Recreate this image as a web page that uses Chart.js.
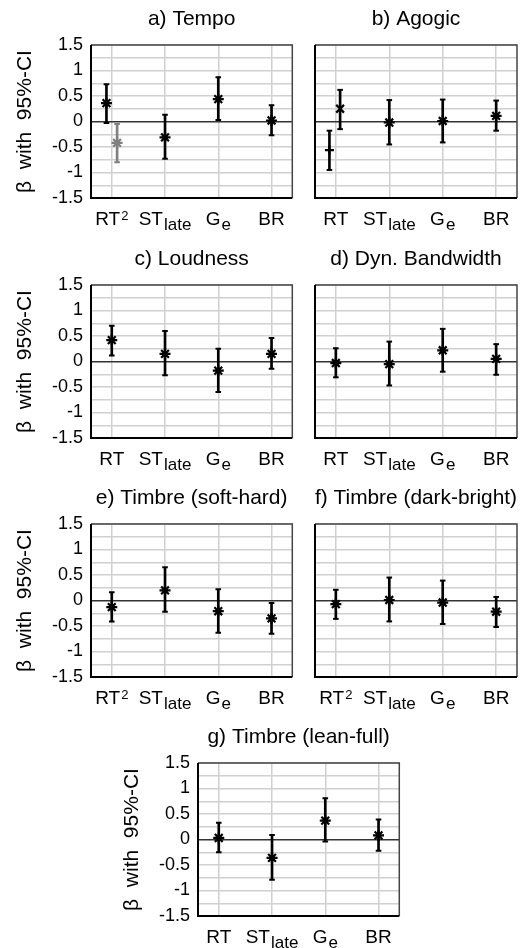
<!DOCTYPE html>
<html lang="en">
<head>
  <meta charset="UTF-8">
  <title>Regression coefficients with 95%-CI</title>
  <script src="https://cdn.jsdelivr.net/npm/chart.js"></script>
  <style>
    html, body { margin: 0; padding: 0; background: #fff; overflow: hidden; }
    canvas { position: absolute; }
  </style>
</head>
<body>
  <canvas id="pa" width="300" height="233" style="left:0px;top:5px"></canvas>
  <canvas id="pb" width="225" height="233" style="left:300px;top:5px"></canvas>
  <canvas id="pc" width="300" height="233" style="left:0px;top:245px"></canvas>
  <canvas id="pd" width="225" height="233" style="left:300px;top:245px"></canvas>
  <canvas id="pe" width="300" height="233" style="left:0px;top:484px"></canvas>
  <canvas id="pf" width="225" height="233" style="left:300px;top:484px"></canvas>
  <canvas id="pg" width="300" height="233" style="left:107px;top:723px"></canvas>
  <script>
    // axis labels
    const yTickValues = [-1.5, -1, -0.5, 0, 0.5, 1, 1.5];
    const yTickLabels = ['-1.5', '-1', '-0.5', '0', '0.5', '1', '1.5'];
    const xLabelsSq = ['RT^2', 'ST_late', 'G_e', 'BR'];
    const xLabels = ['RT', 'ST_late', 'G_e', 'BR'];
    const xPos = [1, 2, 3, 4];
    const yTitle = 'β  with  95%-CI';

    // a) Tempo
    const tempoEst = [0.36, -0.31, 0.44, 0.02];
    const tempoLow = [-0.03, -0.73, 0.03, -0.27];
    const tempoHigh = [0.73, 0.13, 0.87, 0.32];
    const tempoSqEst = [-0.42];
    const tempoSqLow = [-0.80];
    const tempoSqHigh = [-0.05];

    // b) Agogic (RT has two terms, other three predictors)
    const agogicRtLinEst = [-0.56];
    const agogicRtLinLow = [-0.95];
    const agogicRtLinHigh = [-0.18];
    const agogicRtSqEst = [0.25];
    const agogicRtSqLow = [-0.15];
    const agogicRtSqHigh = [0.62];
    const agogicEst = [-0.02, 0.01, 0.11];
    const agogicLow = [-0.45, -0.41, -0.18];
    const agogicHigh = [0.42, 0.43, 0.41];

    // c) Loudness
    const loudEst = [0.42, 0.15, -0.18, 0.15];
    const loudLow = [0.12, -0.27, -0.60, -0.14];
    const loudHigh = [0.70, 0.60, 0.25, 0.46];

    // d) Dyn. Bandwidth
    const dynEst = [-0.03, -0.05, 0.22, 0.05];
    const dynLow = [-0.31, -0.47, -0.20, -0.26];
    const dynHigh = [0.26, 0.39, 0.64, 0.34];

    // e) Timbre (soft-hard)
    const softEst = [-0.13, 0.20, -0.21, -0.35];
    const softLow = [-0.41, -0.22, -0.63, -0.65];
    const softHigh = [0.16, 0.65, 0.22, -0.05];

    // f) Timbre (dark-bright)
    const darkEst = [-0.07, 0.01, -0.04, -0.22];
    const darkLow = [-0.36, -0.41, -0.46, -0.52];
    const darkHigh = [0.21, 0.45, 0.39, 0.07];

    // g) Timbre (lean-full)
    const leanEst = [0.03, -0.36, 0.37, 0.08];
    const leanLow = [-0.25, -0.79, -0.04, -0.22];
    const leanHigh = [0.33, 0.09, 0.81, 0.39];

    Chart.defaults.font.family = "'Liberation Sans', Arial, sans-serif";
    Chart.defaults.color = '#000';

    const black = '#000';
    const gray = '#808080';
    const mainFont = "19px 'Liberation Sans', Arial, sans-serif";
    const subFont = "17px 'Liberation Sans', Arial, sans-serif";
    const supFont = "13px 'Liberation Sans', Arial, sans-serif";

    // error bar = floating bar + two caps + a marker
    function series(xs, est, lo, hi, color, marker, size) {
      return [
        { type: 'scatter', data: xs.map((x, i) => ({ x, y: est[i] })), pointStyle: marker,
          pointRadius: size || 5.5, borderColor: color, backgroundColor: color, borderWidth: 2.2, pointBorderWidth: 2.2 },
        { type: 'scatter', data: xs.flatMap((x, i) => [{ x, y: lo[i] }, { x, y: hi[i] }]), pointStyle: 'line',
          pointRadius: 2.8, borderColor: color, backgroundColor: color, borderWidth: 2, pointBorderWidth: 2 },
        { type: 'bar', data: xs.map((x, i) => ({ x, y: [lo[i], hi[i]] })), backgroundColor: color,
          borderWidth: 0, barThickness: 2, maxBarThickness: 2, grouped: false }
      ];
    }

    const richLabels = {
      id: 'richLabels',
      afterDraw(chart, args, opts) {
        const { ctx, chartArea } = chart;
        const xs = chart.scales.x;
        const base = chartArea.bottom + 27;
        opts.labels.forEach((lab, i) => {
          const m = lab.match(/^([^_^]+)([_^]?)(.*)$/);
          const main = m[1], mark = m[2], script = m[3];
          ctx.save();
          ctx.fillStyle = '#000';
          ctx.textAlign = 'left';
          ctx.textBaseline = 'alphabetic';
          ctx.font = mainFont;
          const w1 = ctx.measureText(main).width;
          const sFont = mark === '^' ? supFont : subFont;
          ctx.font = sFont;
          const w2 = script ? ctx.measureText(script).width + 1 : 0;
          const x0 = xs.getPixelForValue(xPos[i]) - (w1 + w2) / 2;
          ctx.font = mainFont;
          ctx.fillText(main, x0, base);
          if (script) {
            ctx.font = sFont;
            ctx.fillText(script, x0 + w1 + 1, mark === '^' ? base - 5 : base + 5);
          }
          ctx.restore();
        });
      }
    };

    const frame = {
      id: 'frame',
      beforeDatasetsDraw(chart) {
        const { ctx, chartArea: a } = chart;
        ctx.save();
        ctx.lineWidth = 1.5;
        ctx.strokeStyle = '#444';
        ctx.beginPath();
        ctx.moveTo(a.left, a.top); ctx.lineTo(a.right, a.top); ctx.lineTo(a.right, a.bottom);
        ctx.stroke();
        ctx.lineWidth = 2;
        ctx.strokeStyle = '#000';
        ctx.beginPath();
        ctx.moveTo(a.left, a.top); ctx.lineTo(a.left, a.bottom); ctx.lineTo(a.right, a.bottom);
        ctx.stroke();
        ctx.restore();
      }
    };

    function makePanel(id, title, labels, withAxis, datasets) {
      const yWidth = withAxis ? 91 : 15;
      const canvas = document.getElementById(id);
      return new Chart(canvas, {
        type: 'scatter',
        data: { datasets: datasets.flat() },
        plugins: [frame, richLabels],
        options: {
          responsive: false,
          animation: false,
          devicePixelRatio: 1,
          events: [],
          layout: { padding: { top: 1.8, left: 0, bottom: 0, right: canvas.width - yWidth - 202 } },
          scales: {
            x: {
              type: 'linear', min: 0.61, max: 4.39, offset: false,
              ticks: { display: false, stepSize: 1, includeBounds: false },
              grid: { color: '#d0d0d0', lineWidth: 1.5, drawTicks: false, offset: false },
              border: { display: false },
              afterFit(s) { s.height = 40; }
            },
            y: {
              type: 'linear', min: -1.5, max: 1.5,
              ticks: {
                display: withAxis, stepSize: 0.25, autoSkip: false, padding: 8,
                font: { size: 18 },
                callback(v) {
                  const i = yTickValues.findIndex(t => Math.abs(t - v) < 1e-6);
                  return i >= 0 ? yTickLabels[i] : '';
                }
              },
              grid: {
                drawTicks: false,
                color: c => (c.tick && Math.abs(c.tick.value) < 1e-6) ? '#333' : '#d0d0d0',
                lineWidth: 1.5
              },
              border: { display: false },
              title: { display: withAxis, text: yTitle, font: { size: 21 }, padding: { top: 13, bottom: 0 } },
              afterFit(s) { s.width = yWidth; }
            }
          },
          plugins: {
            legend: { display: false },
            tooltip: { enabled: false },
            title: {
              display: true, text: title, fullSize: false, color: '#000',
              font: { size: 21, weight: 'normal' }, padding: { top: 0, bottom: 13 }
            },
            richLabels: { labels }
          }
        }
      });
    }

    const dodge = 0.1;

    makePanel('pa', 'a) Tempo', xLabelsSq, true, [
      series(xPos.map((x, i) => i === 0 ? x - dodge : x), tempoEst, tempoLow, tempoHigh, black, 'star'),
      series([xPos[0] + dodge], tempoSqEst, tempoSqLow, tempoSqHigh, gray, 'star')
    ]);

    makePanel('pb', 'b) Agogic', xLabels, false, [
      series([xPos[0] - 0.12], agogicRtLinEst, agogicRtLinLow, agogicRtLinHigh, black, 'cross', 4.5),
      series([xPos[0] + 0.08], agogicRtSqEst, agogicRtSqLow, agogicRtSqHigh, black, 'crossRot', 5.5),
      series(xPos.slice(1), agogicEst, agogicLow, agogicHigh, black, 'star')
    ]);

    makePanel('pc', 'c) Loudness', xLabels, true, [
      series(xPos, loudEst, loudLow, loudHigh, black, 'star')
    ]);

    makePanel('pd', 'd) Dyn. Bandwidth', xLabels, false, [
      series(xPos, dynEst, dynLow, dynHigh, black, 'star')
    ]);

    makePanel('pe', 'e) Timbre (soft-hard)', xLabelsSq, true, [
      series(xPos, softEst, softLow, softHigh, black, 'star')
    ]);

    makePanel('pf', 'f) Timbre (dark-bright)', xLabelsSq, false, [
      series(xPos, darkEst, darkLow, darkHigh, black, 'star')
    ]);

    makePanel('pg', 'g) Timbre (lean-full)', xLabels, true, [
      series(xPos, leanEst, leanLow, leanHigh, black, 'star')
    ]);
  </script>
</body>
</html>
